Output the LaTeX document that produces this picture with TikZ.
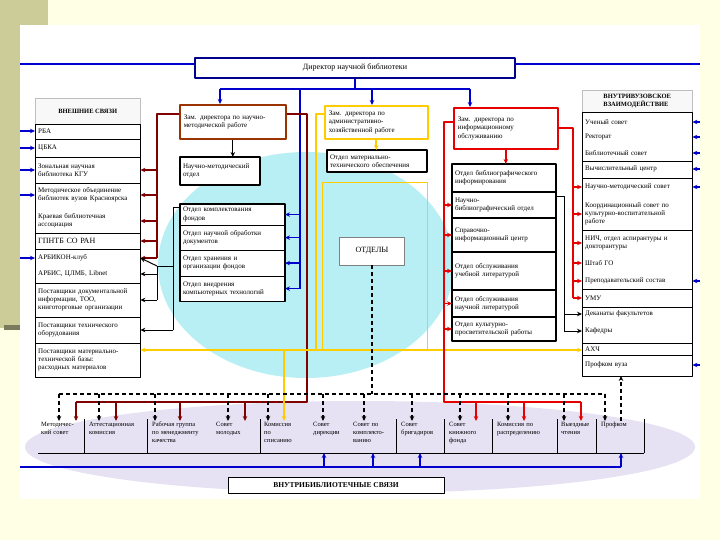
\documentclass[tikz,border=0pt]{standalone}
\usepackage{fontspec}
\setmainfont{Liberation Serif}
\usetikzlibrary{arrows.meta,patterns.meta,positioning}

\definecolor{slidebg}{HTML}{FFFFE5}
\definecolor{olivebar}{HTML}{CCCC99}
\definecolor{lnblue}{HTML}{0000CC}
\definecolor{lnbrown}{HTML}{800000}
\definecolor{boxbrown}{HTML}{993300}
\definecolor{lnred}{HTML}{E60000}
\definecolor{lnyellow}{HTML}{FFCC00}
\definecolor{cloudcyan}{HTML}{22CCDD}
\definecolor{cloudlilac}{HTML}{9F8FD6}

\tikzset{
  txt/.style={anchor=west, inner xsep=3pt, inner ysep=1pt, align=left},
  lrow/.style={txt, text width=99pt},
  rrow/.style={txt, text width=104pt},
  frame/.style={draw, line width=.8pt, fill=white, anchor=north west, inner sep=0pt, outer sep=0pt},
  headbox/.style={draw=gray!50, pattern={Dots[distance=2pt,radius=.45pt]}, pattern color=gray!60,
    anchor=north west, inner xsep=4pt, align=left, font=\fontsize{6.5}{7.6}\selectfont\bfseries},
  zambox/.style={fill=white, line width=1.6pt, anchor=north west, inner xsep=4pt, align=left},
  dept/.style={draw, fill=white, line width=1.1pt, outer sep=0pt, inner xsep=3pt, align=left, anchor=north west},
  brow/.style={anchor=north west, inner sep=1pt, align=left, font=\fontsize{6.5}{7.8}\selectfont},
  blueln/.style={draw=lnblue, line width=1.6pt},
  brownln/.style={draw=lnbrown, line width=1.4pt},
  redln/.style={draw=lnred, line width=1.4pt},
  yellowln/.style={draw=lnyellow, line width=1.8pt},
  blkln/.style={draw=black, line width=1pt},
  dashln/.style={draw=black, line width=1.3pt, dash pattern=on 4pt off 3pt}
}

\begin{document}
\begin{tikzpicture}[x=1pt, y=-1pt, >={Stealth[length=5pt,width=4.5pt]},
  font=\fontsize{7}{8.3}\selectfont, line join=round]
% slide
\fill[slidebg] (0,0) rectangle (720,540);
\fill[olivebar] (0,0) rectangle (48,25);
\fill[olivebar] (0,0) rectangle (20,328);
\fill[olivebar!60!black] (4,325) rectangle (20,330);
\fill[white] (20,25) rectangle (700,499);
\useasboundingbox (0,0) rectangle (720,540);

% clouds
\fill[cloudcyan!32] (306,265) ellipse [x radius=148, y radius=113];
\fill[cloudlilac!26] (360,447) ellipse [x radius=335, y radius=46];

% director
\node[draw=lnblue!70!black, line width=1.2pt, fill=white, minimum width=320pt, minimum height=20pt,
  font=\fontsize{8}{9}\selectfont] (dir) at (355,68) {Директор научной библиотеки};

% external links
\node[headbox, minimum width=105pt, minimum height=26pt] (eHead) at (35,98) {ВНЕШНИЕ СВЯЗИ};
\node[frame, minimum width=105pt, minimum height=253pt] (eFrame) at (35,124) {};
\node[lrow] (eRBA) at (35,131) {РБА};
\node[lrow] (eCB) at (35,148) {ЦБКА};
\node[lrow] (eZNB) at (35,170) {Зональная научная\\библиотека КГУ};
\node[lrow] (eMO) at (35,195) {Методическое объединение\\библиотек вузов Красноярска};
\node[lrow] (eKBA) at (35,221) {Краевая библиотечная\\ассоциация};
\node[lrow, font=\fontsize{8}{9}\selectfont] (eGPNTB) at (35,241) {ГПНТБ СО РАН};
\node[lrow] (eArbC) at (35,258) {АРБИКОН-клуб};
\node[lrow] (eArbis) at (35,274) {АРБИС, ЦЛМБ, Libnet};
\node[lrow] (eSupDoc) at (35,300) {Поставщики документальной\\информации, ТОО,\\книготорговые организации};
\node[lrow] (eSupTech) at (35,330) {Поставщики технического\\оборудования};
\node[lrow] (eSupMat) at (35,360) {Поставщики материально-\\технической базы:\\расходных материалов};
\foreach \y in {139,157,183,233,249,283,317,343}
  \draw[line width=.8pt] (35,\y) -- (140,\y);

% university links
\node[headbox, minimum width=110pt, minimum height=22pt] (iHead) at (582,90) {ВНУТРИВУЗОВСКОЕ\\ВЗАИМОДЕЙСТВИЕ};
\node[frame, minimum width=110pt, minimum height=264pt] (iFrame) at (582,112) {};
\node[rrow] (iUS) at (582,122) {Ученый совет};
\node[rrow] (iRek) at (582,137) {Ректорат};
\node[rrow] (iBS) at (582,153) {Библиотечный совет};
\node[rrow] (iVC) at (582,169) {Вычислительный центр};
\node[rrow] (iNMS) at (582,187) {Научно-методический совет};
\node[rrow] (iKS) at (582,214) {Координационный совет по\\культурно-воспитательной\\работе};
\node[rrow] (iNICH) at (582,243) {НИЧ, отдел аспирантуры и\\докторантуры};
\node[rrow] (iShtab) at (582,263) {Штаб ГО};
\node[rrow] (iPrep) at (582,281) {Преподавательский состав};
\node[rrow] (iUMU) at (582,298) {УМУ};
\node[rrow] (iDek) at (582,314) {Деканаты факультетов};
\node[rrow] (iKaf) at (582,331) {Кафедры};
\node[rrow] (iAHCH) at (582,349) {АХЧ};
\node[rrow] (iProf) at (582,365) {Профком вуза};
\foreach \y in {161,178,230,289,307,343,355}
  \draw[line width=.8pt] (582,\y) -- (692,\y);

% deputies
\node[zambox, draw=boxbrown, text width=98pt, minimum height=34pt] (zamNM) at (179,104) {Зам. директора по научно-\\методической работе};
\node[zambox, draw=lnyellow, text width=95pt, minimum height=33pt] (zamAH) at (324,105) {Зам. директора по\\административно-\\хозяйственной работе};
\node[zambox, draw=lnred, text width=96pt, minimum height=41pt] (zamIB) at (453,107) {Зам. директора по\\информационному\\обслуживанию};

% departments
\node[dept, text width=74pt, minimum height=28pt] (nmOtd) at (180,157) {Научно-методический\\отдел};
\node[dept, text width=94pt, minimum height=22pt] (ahOtd) at (327,150) {Отдел материально-\\технического обеспечения};
\draw[lnyellow, line width=.8pt] (322,182) rectangle (427,350);

\node[dept, text width=99pt, minimum height=20pt] (lg1) at (180,204) {Отдел комплектования\\фондов};
\node[dept, text width=99pt, minimum height=25pt, below=0pt of lg1] (lg2) {Отдел научной обработки\\документов};
\node[dept, text width=99pt, minimum height=26pt, below=0pt of lg2] (lg3) {Отдел хранения и\\организации фондов};
\node[dept, text width=99pt, minimum height=25pt, below=0pt of lg3] (lg4) {Отдел внедрения\\компьютерных технологий};

\node[dept, text width=98pt, minimum height=28pt] (rg1) at (452,164) {Отдел библиографического\\информирования};
\node[dept, text width=98pt, minimum height=26pt, below=0pt of rg1] (rg2) {Научно-\\библиографический отдел};
\node[dept, text width=98pt, minimum height=34pt, below=0pt of rg2] (rg3) {Справочно-\\информационный центр};
\node[dept, text width=98pt, minimum height=38pt, below=0pt of rg3] (rg4) {Отдел обслуживания\\учебной литературой};
\node[dept, text width=98pt, minimum height=27pt, below=0pt of rg4] (rg5) {Отдел обслуживания\\научной литературой};
\node[dept, text width=98pt, minimum height=24pt, below=0pt of rg5] (rg6) {Отдел культурно-\\просветительской работы};

\node[draw=gray, fill=white, minimum width=65pt, minimum height=28pt, font=\fontsize{8}{9}\selectfont] (otd) at (372,251) {ОТДЕЛЫ};

% intra-library row
\node[brow, text width=42pt] (bMS) at (40,421) {Методичес-\\кий совет};
\node[brow, text width=56pt] (bAK) at (88,421) {Аттестационная\\комиссия};
\node[brow, text width=60pt] (bRG) at (151,421) {Рабочая группа\\по менеджменту\\качества};
\node[brow, text width=40pt] (bSM) at (215,421) {Совет\\молодых};
\node[brow, text width=45pt] (bKS) at (263,421) {Комиссия\\по\\списанию};
\node[brow, text width=38pt] (bSD) at (312,421) {Совет\\дирекции};
\node[brow, text width=42pt] (bSK) at (352,421) {Совет по\\комплекто-\\ванию};
\node[brow, text width=42pt] (bSB) at (400,421) {Совет\\бригадиров};
\node[brow, text width=42pt] (bKF) at (448,421) {Совет\\книжного\\фонда};
\node[brow, text width=58pt] (bKR) at (496,421) {Комиссия по\\распределению};
\node[brow, text width=34pt] (bVZ) at (560,421) {Выездные\\чтения};
\node[brow, text width=42pt] (bPK) at (600,421) {Профком};
\foreach \x in {84,147,260,396,444,492,557,596,644}
  \draw[line width=.8pt] (\x,419) -- (\x,453);
\coordinate (rowBase) at (38,453);
\draw[line width=.8pt] (rowBase) -- (644,453);
\node[draw, fill=white, minimum width=216pt, minimum height=16pt,
  font=\fontsize{7.5}{9}\selectfont\bfseries] (intra) at (336,485) {ВНУТРИБИБЛИОТЕЧНЫЕ СВЯЗИ};

% blue links
\coordinate (lEdge) at (20,64);
\coordinate (rEdge) at (700,64);
\draw[blueln] (lEdge) -- (lEdge -| dir.west);
\draw[blueln] (rEdge) -- (rEdge -| dir.east);
\coordinate (bA) at (220,89);
\coordinate (bB) at (300,89);
\coordinate (bC) at (372,89);
\coordinate (bD) at (470,89);
\draw[blueln] (dir.south) -- (dir.south |- bA);
\draw[blueln] (bA) -- (bD);
\draw[blueln,->] (bA) -- (bA |- zamNM.north);
\draw[blueln,->] (bC) -- (bC |- zamAH.north);
\draw[blueln,->] (bD) -- (bD |- zamIB.north);
\draw[blueln] (bB) -- (bB |- lg4);
\foreach \n in {lg1,lg2,lg3,lg4}
  \draw[blueln,->] (bB |- \n.east) -- (\n.east);
\foreach \n in {eRBA,eCB,eZNB,eMO,eArbC}
  \draw[blueln,->] (lEdge |- \n.west) -- (\n.west);
\foreach \n in {iUS,iRek,iBS,iVC,iNMS,iPrep,iProf}
  \draw[blueln,->] (rEdge |- \n.east) -- (\n.east);
\coordinate (bbL) at (20,467);
\draw[blueln] (bbL) -- ([xshift=21pt]bPK.north west |- bbL);
\foreach \n/\d in {bSD/12,bSK/21,bSB/20,bPK/21}
  \draw[blueln,->] ([xshift=\d pt]\n.north west |- bbL) -- ([xshift=\d pt]\n.north west |- rowBase);

% brown links
\coordinate (brL) at (157,114);
\coordinate (brR) at (307,114);
\coordinate (brB) at (76,402);
\draw[brownln] (zamNM.west |- brL) -- (brL) -- (brL |- eArbC);
\foreach \n in {eZNB,eMO,eKBA,eGPNTB,eArbC}
  \draw[brownln,->] (brL |- \n.east) -- (\n.east);
\draw[brownln] (zamNM.east |- brR) -- (brR) -- (brR |- brB) -- (brB);
\foreach \n/\d in {bMS/36,bAK/28,bRG/29,bSM/30}
  \draw[brownln,->] ([xshift=\d pt]\n.north west |- brB) -- ([xshift=\d pt]\n.north west);

% black links
\draw[blkln,->] (zamNM.south) -- (zamNM.south |- nmOtd.north);
\coordinate (kA) at (173,208);
\coordinate (kB) at (157,266);
\draw[blkln] (lg1.west |- kA) -- (kA) -- (kA |- eSupTech);
\draw[blkln,->] (kA |- eSupTech) -- (eSupTech.east);
\draw[blkln] (kA |- kB) -- (kB) -- (kB |- eSupDoc);
\draw[blkln,->] (kB) -- (eArbC.east);
\draw[blkln,->] (kB |- eArbis) -- (eArbis.east);
\draw[blkln,->] (kB |- eSupDoc) -- (eSupDoc.east);
\coordinate (kR) at (564,197);
\draw[blkln] (rg2.east |- kR) -- (kR) -- (kR |- iKaf);
\draw[blkln,->] (kR |- iDek) -- (iDek.west);
\draw[blkln,->] (kR |- iKaf) -- (iKaf.west);

% yellow links
\coordinate (yA) at (316,114);
\coordinate (yB) at (316,350);
\coordinate (yC) at (284,350);
\draw[yellowln] (zamAH.west |- yA) -- (yA) -- (yB);
\draw[yellowln,->] (yB) -- (yB -| eSupMat.east);
\draw[yellowln,->] (yB) -- (yB -| iAHCH.west);
\draw[yellowln,->] (yC) -- (yC |- bKS.north);
\draw[yellowln,->] (zamAH.south) -- (zamAH.south |- ahOtd.north);

% red links
\coordinate (rL) at (444,122);
\coordinate (rB) at (444,402);
\coordinate (rR) at (573,128);
\draw[redln] (zamIB.west |- rL) -- (rL) -- (rB) -- ([xshift=21pt]bVZ.north west |- rB);
\foreach \n in {rg2,rg3,rg4,rg5,rg6}
  \draw[redln,->] (rL |- \n.west) -- (\n.west);
\foreach \n/\d in {bKF/28,bKR/28,bVZ/21}
  \draw[redln,->] ([xshift=\d pt]\n.north west |- rB) -- ([xshift=\d pt]\n.north west);
\draw[redln,->] (zamIB.south) -- (zamIB.south |- rg1.north);
\draw[redln] (zamIB.east |- rR) -- (rR) -- (rR |- iUMU);
\foreach \n in {iNMS,iKS,iNICH,iShtab,iPrep,iUMU}
  \draw[redln,->] (rR |- \n.west) -- (\n.west);

% dashed links
\coordinate (dL) at (59,394);
\coordinate (dR) at (605,394);
\draw[dashln] (dL) -- (dR);
\draw[dashln] (otd.south) -- (otd.south |- dL);
\foreach \n/\d in {bMS/19,bAK/11,bRG/4,bSM/13,bKS/5,bSD/11,bSK/12,bSB/12,bKF/12,bKR/12,bVZ/4,bPK/5}
  \draw[dashln,->] ([xshift=\d pt]\n.north west |- dL) -- ([xshift=\d pt]\n.north west);
\draw[dashln,->] ([xshift=21pt]bPK.north west) -- ([xshift=21pt]bPK.north west |- iFrame.south);
\end{tikzpicture}
\end{document}
